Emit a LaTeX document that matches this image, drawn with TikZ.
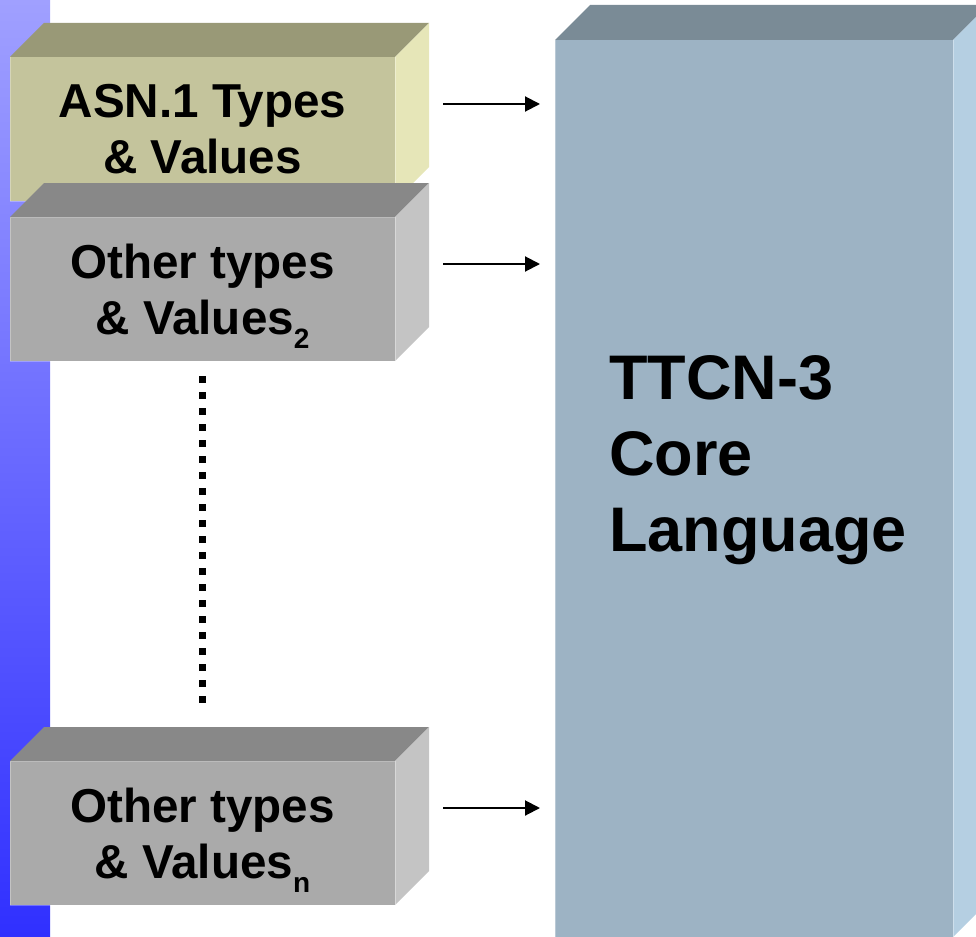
\documentclass[tikz,border=0pt]{standalone}
\usepackage{fontspec}
\setmainfont{Liberation Sans}
\usetikzlibrary{arrows.meta}

% face colours of the three kinds of block
\definecolor{asnFront}{RGB}{196,196,156}
\definecolor{asnTop}{RGB}{153,153,119}
\definecolor{asnSide}{RGB}{230,230,184}
\definecolor{othFront}{RGB}{170,170,170}
\definecolor{othTop}{RGB}{136,136,136}
\definecolor{othSide}{RGB}{196,196,196}
\definecolor{corFront}{RGB}{157,179,196}
\definecolor{corTop}{RGB}{122,139,150}
\definecolor{corSide}{RGB}{181,207,226}
\definecolor{barTop}{RGB}{160,160,255}
\definecolor{barBottom}{RGB}{48,48,255}

% top and right faces of a block whose front face is node #1
\newcommand\blockfaces[4]{%
  \fill[#2] (#1.north west) -- ++(#4,-#4) -- ([shift={(#4,-#4)}]#1.north east) -- (#1.north east) -- cycle;
  \fill[#3] (#1.north east) -- ++(#4,-#4) -- ([shift={(#4,-#4)}]#1.south east) -- (#1.south east) -- cycle;
  \draw[white,opacity=0.35,line width=1pt] (#1.north east) -- (#1.south east);
}
\newcommand\subidx[1]{\smash{\raisebox{-0.3em}{\fontsize{28}{28}\selectfont #1}}}

\begin{document}
\begin{tikzpicture}[x=1pt,y=-1pt,
  frontface/.style={rectangle, anchor=north west, inner sep=0pt, outer sep=0pt,
    minimum width=385pt, minimum height=144pt, align=center,
    fill=#1, draw=white, draw opacity=0.3, line width=1pt,
    font=\bfseries\fontsize{47.6}{56}\selectfont},
  feed/.style={-{Triangle[length=15pt,width=15pt]}, line width=2pt,
    shorten <=48pt, shorten >=15pt},
  dotline/.style={line width=7pt, dash pattern=on 7pt off 9pt,
    shorten <=15pt, shorten >=57pt}]

\useasboundingbox (0,0) rectangle (976,936);

% gradient bar along the left edge
\shade[top color=barTop, bottom color=barBottom] (0,0) rectangle (50,936);

% core language block
\node[rectangle, anchor=north west, inner sep=0pt, outer sep=0pt,
      minimum width=398pt, minimum height=897pt, fill=corFront,
      draw=white, draw opacity=0.3, line width=1pt] (core) at (555,40) {};
\blockfaces{core}{corTop}{corSide}{35}
\node[anchor=north west, inner sep=0pt, align=left,
      font=\bfseries\fontsize{63}{76}\selectfont] (corelabel) at (609,355)
      {TTCN-3\\Core\\Language};

% type system blocks
\node[frontface=asnFront] (asn) at (10,57) {ASN.1 Types\\\& Values};
\blockfaces{asn}{asnTop}{asnSide}{34}

\node[frontface=othFront] (oth2) at (10,217) {Other types\\\& Values\subidx{2}};
\blockfaces{oth2}{othTop}{othSide}{34}

\node[frontface=othFront] (othn) at (10,761) {Other types\\\& Values\subidx{n}};
\blockfaces{othn}{othTop}{othSide}{34}

% arrows into the core language
\draw[feed] ([yshift=25pt]asn.east) -- ([yshift=25pt]asn.east -| core.west);
\draw[feed] ([yshift=25pt]oth2.east) -- ([yshift=25pt]oth2.east -| core.west);
\draw[feed] ([yshift=25pt]othn.east) -- ([yshift=25pt]othn.east -| core.west);

% further blocks omitted
\draw[dotline] (oth2.south) -- (othn.north);
\end{tikzpicture}
\end{document}
